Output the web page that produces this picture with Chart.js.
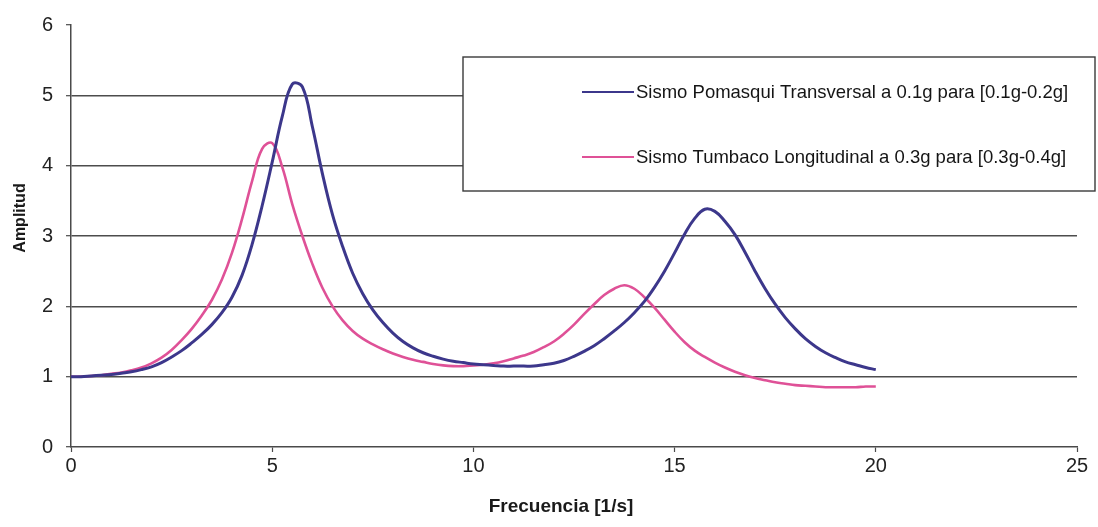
<!DOCTYPE html>
<html>
<head>
<meta charset="utf-8">
<script src="https://cdn.jsdelivr.net/npm/chart.js@4.4.1/dist/chart.umd.min.js"></script>
<style>
  html, body { margin: 0; padding: 0; background: #ffffff; }
  canvas { display: block; }
</style>
</head>
<body>
<canvas id="chart" width="1098" height="527"></canvas>
<script>
// Frequency samples [1/s], every 0.25 from 0 to 20
const frecuencia = [
  0, 0.25, 0.5, 0.75, 1, 1.25, 1.5, 1.75, 2, 2.25, 2.5, 2.75, 3, 3.25, 3.5, 3.75,
  4, 4.25, 4.5, 4.75, 5, 5.25, 5.5, 5.75, 6, 6.25, 6.5, 6.75, 7, 7.25, 7.5, 7.75,
  8, 8.25, 8.5, 8.75, 9, 9.25, 9.5, 9.75, 10, 10.25, 10.5, 10.75, 11, 11.25, 11.5, 11.75,
  12, 12.25, 12.5, 12.75, 13, 13.25, 13.5, 13.75, 14, 14.25, 14.5, 14.75, 15, 15.25, 15.5, 15.75,
  16, 16.25, 16.5, 16.75, 17, 17.25, 17.5, 17.75, 18, 18.25, 18.5, 18.75, 19, 19.25, 19.5, 19.75, 20
];

// Amplitude – Pomasqui record, transverse direction
const pomasquiTransversal = [
  1.00, 1.00, 1.01, 1.02, 1.03, 1.05, 1.07, 1.10, 1.14, 1.20, 1.28, 1.37, 1.48, 1.60, 1.74, 1.91,
  2.13, 2.44, 2.88, 3.43, 4.05, 4.70, 5.16, 5.12, 4.55, 3.88, 3.30, 2.85, 2.47, 2.18, 1.95, 1.77,
  1.62, 1.50, 1.41, 1.34, 1.29, 1.25, 1.22, 1.20, 1.18, 1.17, 1.16, 1.15, 1.15, 1.15, 1.15, 1.17,
  1.19, 1.23, 1.29, 1.36, 1.44, 1.54, 1.65, 1.77, 1.91, 2.07, 2.27, 2.50, 2.76, 3.03, 3.25, 3.38,
  3.35, 3.21, 3.02, 2.77, 2.50, 2.25, 2.03, 1.84, 1.68, 1.54, 1.43, 1.34, 1.27, 1.21, 1.17, 1.13, 1.10
];

// Amplitude – Tumbaco record, longitudinal direction
const tumbacoLongitudinal = [
  1.00, 1.00, 1.01, 1.02, 1.04, 1.06, 1.09, 1.13, 1.19, 1.27, 1.38, 1.52, 1.68, 1.87, 2.09, 2.38,
  2.76, 3.24, 3.78, 4.24, 4.32, 3.98, 3.45, 3.00, 2.60, 2.26, 2.00, 1.80, 1.65, 1.54, 1.46, 1.39,
  1.33, 1.28, 1.24, 1.21, 1.18, 1.16, 1.15, 1.15, 1.16, 1.17, 1.19, 1.22, 1.26, 1.30, 1.35, 1.42,
  1.50, 1.61, 1.74, 1.89, 2.03, 2.16, 2.25, 2.30, 2.25, 2.13, 1.98, 1.81, 1.64, 1.49, 1.37, 1.28,
  1.20, 1.13, 1.07, 1.02, 0.98, 0.95, 0.92, 0.90, 0.88, 0.87, 0.86, 0.85, 0.85, 0.85, 0.85, 0.86, 0.86
];

const etiquetas = [
  'Sismo Pomasqui Transversal a 0.1g para [0.1g-0.2g]',
  'Sismo Tumbaco Longitudinal a 0.3g para [0.3g-0.4g]'
];

const tituloX = 'Frecuencia [1/s]';
const tituloY = 'Amplitud';

const colorAzul = '#3c378b';
const colorRosa = '#df5197';
const colorEje = '#4a4a4a';
const fuente = '"Liberation Sans", Arial, Helvetica, sans-serif';

const toPoints = (xs, ys) => xs.map((x, i) => ({ x: x, y: ys[i] }));

// Framed legend box drawn inside the plot, upper right
const legendBox = {
  id: 'legendBox',
  afterDatasetsDraw(chart) {
    const ctx = chart.ctx;
    const left = 463, top = 57, right = 1095, bottom = 191;
    ctx.save();
    ctx.fillStyle = '#ffffff';
    ctx.fillRect(left, top, right - left, bottom - top);
    ctx.strokeStyle = '#3a3a3a';
    ctx.lineWidth = 1.4;
    ctx.strokeRect(left, top, right - left, bottom - top);
    const rows = [92, 157];
    chart.data.datasets.forEach((ds, i) => {
      const y = rows[i];
      ctx.strokeStyle = ds.borderColor;
      ctx.lineWidth = 2.2;
      ctx.beginPath();
      ctx.moveTo(582, y);
      ctx.lineTo(634, y);
      ctx.stroke();
      ctx.fillStyle = '#151515';
      ctx.font = '18.5px ' + fuente;
      ctx.textAlign = 'left';
      ctx.textBaseline = 'middle';
      ctx.fillText(ds.label, 636, y + 1);
    });
    ctx.restore();
  }
};

// Axis titles placed under / beside the plot
const axisTitles = {
  id: 'axisTitles',
  afterDraw(chart) {
    const ctx = chart.ctx;
    ctx.save();
    ctx.fillStyle = '#1a1a1a';
    ctx.font = 'bold 19px ' + fuente;
    ctx.textAlign = 'center';
    ctx.textBaseline = 'middle';
    ctx.fillText(tituloX, 561, 507);
    ctx.translate(21, 218);
    ctx.rotate(-Math.PI / 2);
    ctx.font = 'bold 16px ' + fuente;
    ctx.fillText(tituloY, 0, 0);
    ctx.restore();
  }
};

new Chart(document.getElementById('chart'), {
  type: 'line',
  data: {
    datasets: [
      {
        label: etiquetas[0],
        data: toPoints(frecuencia, pomasquiTransversal),
        borderColor: colorAzul,
        borderWidth: 3,
        pointRadius: 0,
        fill: false,
        tension: 0.4
      },
      {
        label: etiquetas[1],
        data: toPoints(frecuencia, tumbacoLongitudinal),
        borderColor: colorRosa,
        borderWidth: 2.6,
        pointRadius: 0,
        fill: false,
        tension: 0.4
      }
    ]
  },
  options: {
    responsive: false,
    animation: false,
    devicePixelRatio: 1,
    layout: { padding: { top: 20, right: 21, left: 0, bottom: 0 } },
    plugins: {
      legend: { display: false },
      tooltip: { enabled: false }
    },
    scales: {
      x: {
        type: 'linear',
        min: 0,
        max: 25,
        afterFit(scale) { scale.height = 80; },
        ticks: {
          stepSize: 5,
          padding: 2,
          color: '#222222',
          font: { family: fuente, size: 20 }
        },
        grid: {
          drawOnChartArea: false,
          drawTicks: true,
          tickLength: 5,
          tickColor: colorEje,
          tickWidth: 1.2
        },
        border: { display: true, color: colorEje, width: 1.5 }
      },
      y: {
        min: 0,
        max: 6,
        afterFit(scale) { scale.width = 71; },
        ticks: {
          stepSize: 1,
          padding: 13,
          color: '#222222',
          font: { family: fuente, size: 20 }
        },
        grid: {
          color: (c) => (c.tick && (c.tick.value === 6 || c.tick.value === 0)) ? 'rgba(0,0,0,0)' : '#4d4d4d',
          lineWidth: 1.4,
          drawTicks: true,
          tickLength: 5,
          tickColor: colorEje,
          tickWidth: 1.2
        },
        border: { display: true, color: colorEje, width: 1.5 }
      }
    }
  },
  plugins: [legendBox, axisTitles]
});
</script>
</body>
</html>
